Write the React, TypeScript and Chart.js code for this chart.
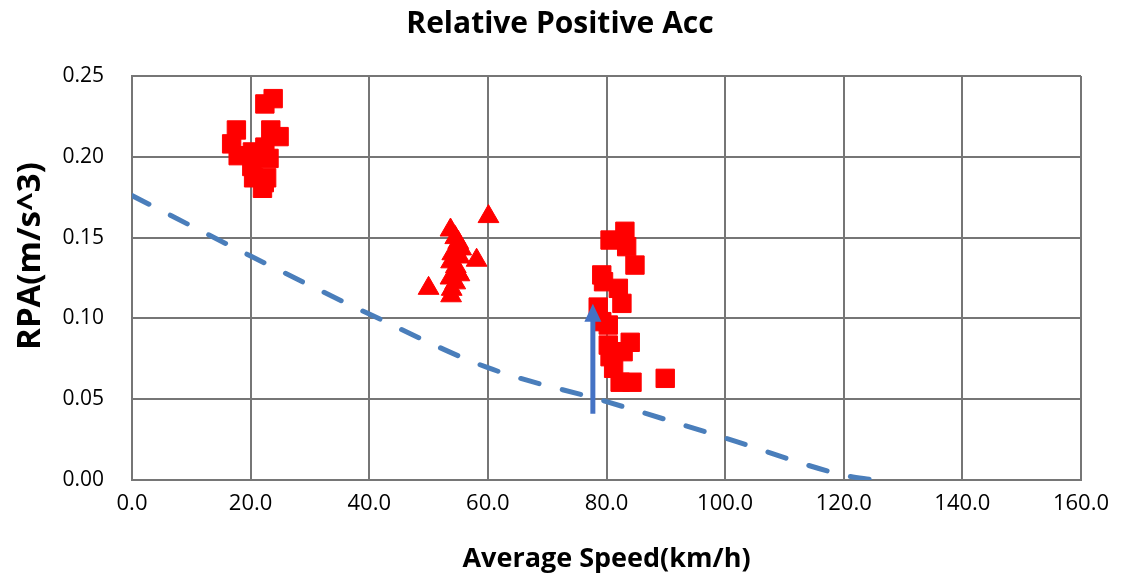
import React, { useEffect, useRef } from "react";
import { Chart, registerables } from "chart.js";
Chart.register(...registerables);

const CHART_TITLE = "Relative Positive Acc";
const X_TITLE = "Average Speed(km/h)";
const Y_TITLE = "RPA(m/s^3)";

// Low-speed cluster (squares)
const lowSpeedX = [23.8, 22.4, 17.6, 16.8, 17.9, 23.4, 24.8, 20.3, 22.4, 23.1, 20.2, 20.5, 22.7, 22.0, 22.3];
const lowSpeedY = [0.236, 0.2327, 0.2166, 0.208, 0.2007, 0.2166, 0.2125, 0.203, 0.206, 0.199, 0.194, 0.187, 0.187, 0.1805, 0.184];

// Mid-speed cluster (triangles)
const midSpeedX = [60.1, 50.0, 53.7, 53.8, 58.1, 54.5, 55.0, 55.5, 54.0, 55.2, 53.8, 54.6, 55.0, 53.7, 54.5, 55.2, 53.9];
const midSpeedY = [0.163, 0.1186, 0.1547, 0.114, 0.136, 0.150, 0.147, 0.143, 0.140, 0.138, 0.135, 0.132, 0.128, 0.125, 0.122, 0.127, 0.118];

// High-speed cluster (squares)
const highSpeedX = [83.1, 80.6, 83.4, 84.8, 79.2, 79.5, 82.0, 82.6, 78.6, 80.3, 79.2, 84.0, 80.3, 80.6, 82.8, 81.2, 82.3, 84.3, 89.9];
const highSpeedY = [0.1539, 0.1485, 0.1444, 0.133, 0.1269, 0.1227, 0.1186, 0.1093, 0.107, 0.0959, 0.098, 0.0852, 0.0835, 0.0763, 0.0794, 0.0691, 0.0605, 0.0605, 0.0629];

// Dashed limit curve
const limitX = [0, 20, 40, 60, 80, 100, 120, 125];
const limitY = [0.176, 0.1386, 0.1027, 0.0695, 0.0485, 0.026, 0.003, 0];

// Arrow
const arrowX = 77.7;
const arrowFromY = 0.041;
const arrowToY = 0.109;

const xTicks = [0, 20, 40, 60, 80, 100, 120, 140, 160];
const yTicks = [0, 0.05, 0.1, 0.15, 0.2, 0.25];

const RED = "#FF0000";
const BLUE = "#4A7EBB";
const ARROW_BLUE = "#4472C4";
const GRID = "#767676";
const FONT = "'Open Sans', 'DejaVu Sans', sans-serif";

const toPts = (xs: number[], ys: number[]) => xs.map((x, i) => ({ x, y: ys[i] }));

export default function App() {
  const ref = useRef<HTMLCanvasElement | null>(null);

  useEffect(() => {
    document.body.style.margin = "0";
    const canvas = ref.current;
    if (!canvas) return;

    const arrowPlugin = {
      id: "arrowPlugin",
      afterDatasetsDraw(chart: any) {
        const { ctx, scales } = chart;
        const xs = scales.x;
        const ys = scales.y;
        const px = xs.getPixelForValue(arrowX);
        const y0 = ys.getPixelForValue(arrowFromY);
        const y1 = ys.getPixelForValue(arrowToY);
        ctx.save();
        ctx.strokeStyle = ARROW_BLUE;
        ctx.fillStyle = ARROW_BLUE;
        ctx.lineWidth = 5;
        ctx.beginPath();
        ctx.moveTo(px, y0);
        ctx.lineTo(px, y1 + 14);
        ctx.stroke();
        ctx.beginPath();
        ctx.moveTo(px, y1);
        ctx.lineTo(px - 8.5, y1 + 18);
        ctx.lineTo(px + 8.5, y1 + 18);
        ctx.closePath();
        ctx.fill();
        ctx.restore();
      },
      afterDraw(chart: any) {
        const { ctx, chartArea } = chart;
        ctx.save();
        ctx.translate(31, (chartArea.top + chartArea.bottom) / 2 - 22);
        ctx.rotate(-Math.PI / 2);
        ctx.font = `bold 33px ${FONT}`;
        ctx.fillStyle = "#000";
        ctx.textAlign = "center";
        ctx.textBaseline = "middle";
        ctx.fillText(Y_TITLE, 0, 0);
        ctx.restore();
      },
    };

    const chart = new Chart(canvas, {
      type: "scatter",
      data: {
        datasets: [
          {
            label: "limit",
            data: toPts(limitX, limitY),
            showLine: true,
            borderColor: BLUE,
            borderWidth: 5,
            borderDash: [19, 24],
            borderCapStyle: "round",
            cubicInterpolationMode: "monotone",
            pointRadius: 0,
            fill: false,
          } as any,
          {
            label: "low",
            data: toPts(lowSpeedX, lowSpeedY),
            pointStyle: "rect",
            pointRadius: 13,
            backgroundColor: RED,
            borderColor: RED,
            borderWidth: 1,
          },
          {
            label: "mid",
            data: toPts(midSpeedX, midSpeedY),
            pointStyle: "triangle",
            pointRadius: 12,
            backgroundColor: RED,
            borderColor: RED,
            borderWidth: 1,
          },
          {
            label: "high",
            data: toPts(highSpeedX, highSpeedY),
            pointStyle: "rect",
            pointRadius: 13,
            backgroundColor: RED,
            borderColor: RED,
            borderWidth: 1,
          },
        ],
      },
      options: {
        animation: false,
        responsive: false,
        devicePixelRatio: 1,
        events: [],
        layout: { padding: { left: 39, right: 56, top: 0, bottom: 0 } },
        plugins: {
          legend: { display: false },
          tooltip: { enabled: false },
          title: {
            display: true,
            text: CHART_TITLE,
            color: "#000",
            font: { family: FONT, size: 30, weight: "bold", lineHeight: 1.2 },
            padding: { top: 6, bottom: 34 },
          },
        },
        scales: {
          x: {
            type: "linear",
            min: 0,
            max: 160,
            afterBuildTicks: (s: any) => {
              s.ticks = xTicks.map((v) => ({ value: v }));
            },
            afterFit: (s: any) => {
              s.height = 96;
            },
            ticks: {
              color: "#000",
              font: { family: FONT, size: 22 },
              padding: 11,
              maxRotation: 0,
              callback: (v: any) => Number(v).toFixed(1),
            },
            grid: { color: GRID, lineWidth: 2, drawTicks: false },
            border: { color: GRID, width: 2 },
            title: {
              display: true,
              text: X_TITLE,
              color: "#000",
              font: { family: FONT, size: 27, weight: "bold" },
              padding: { top: 8, bottom: 0 },
            },
          },
          y: {
            type: "linear",
            min: 0,
            max: 0.25,
            afterBuildTicks: (s: any) => {
              s.ticks = yTicks.map((v) => ({ value: v }));
            },
            afterFit: (s: any) => {
              s.width = 93;
            },
            ticks: {
              color: "#000",
              font: { family: FONT, size: 21 },
              padding: 28,
              callback: (v: any) => Number(v).toFixed(2),
            },
            grid: { color: GRID, lineWidth: 2, drawTicks: false },
            border: { color: GRID, width: 2 },
          },
        },
      },
      plugins: [arrowPlugin],
    });

    return () => chart.destroy();
  }, []);

  return (
    <div style={{ width: 1137, height: 576 }}>
      <canvas ref={ref} width={1137} height={576} />
    </div>
  );
}
